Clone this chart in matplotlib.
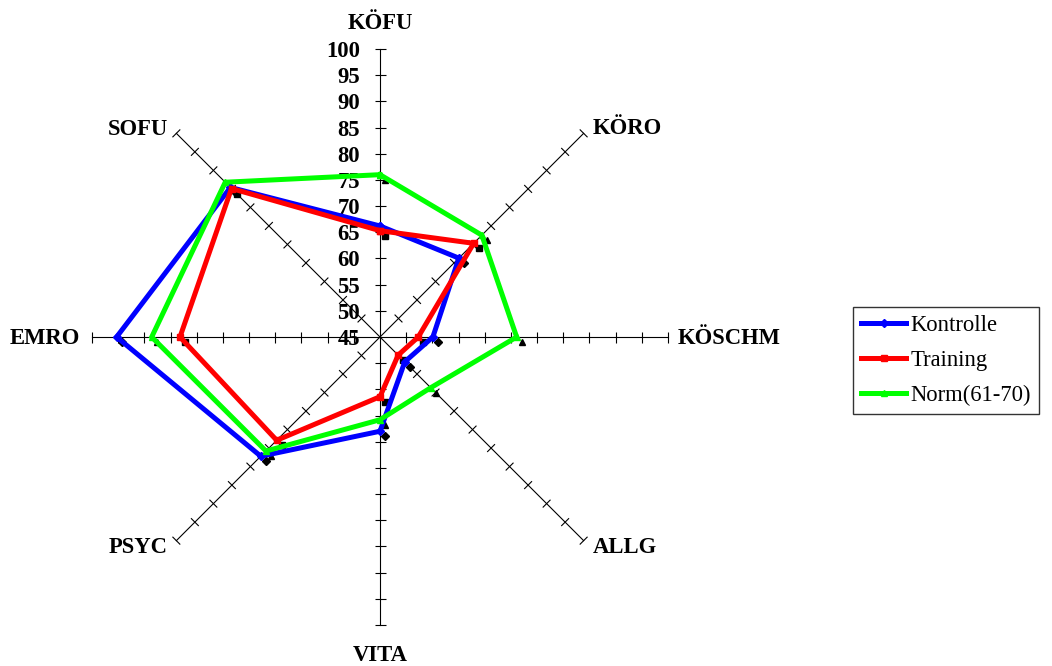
import numpy as np
import matplotlib.pyplot as plt
from matplotlib.collections import LineCollection
from matplotlib.transforms import offset_copy

axes_names = ['KÖFU', 'KÖRO', 'KÖSCHM', 'ALLG', 'VITA', 'PSYC', 'EMRO', 'SOFU']
kontrolle = [66.2, 66.3, 55.1, 51.7, 63.0, 77.2, 95.3, 85.4]
training = [65.3, 70.3, 52.3, 49.9, 56.4, 72.9, 83.2, 85.1]
norm = [76.0, 72.5, 71.1, 58.7, 60.8, 75.8, 88.6, 86.8]
scale_ticks = [45, 50, 55, 60, 65, 70, 75, 80, 85, 90, 95, 100]

r_min, r_max = 45, 100
px = 288 / (r_max - r_min)          # pixels per scale unit
cx, cy = 380, 666 - 337             # centre of the web in pixels
fs = 16.3

plt.rcParams['font.family'] = ['Liberation Serif', 'DejaVu Serif']
fig = plt.figure(figsize=(10.52, 6.66), dpi=100)
ax = fig.add_axes([0, 0, 1, 1])
ax.set_xlim(-cx / px, (1052 - cx) / px)
ax.set_ylim(-cy / px, (666 - cy) / px)
ax.axis('off')

theta = np.deg2rad(np.arange(len(axes_names)) * 45.0)
sx, sy = np.sin(theta), np.cos(theta)


def to_xy(values):
    r = np.asarray(values, dtype=float) - r_min
    x = np.append(r * sx, r[0] * sx[0])
    y = np.append(r * sy, r[0] * sy[0])
    return x, y


# spokes and their tick marks
R = r_max - r_min
for i in range(len(axes_names)):
    ax.plot([0, R * sx[i]], [0, R * sy[i]], color='black', lw=0.8, zorder=1)
segs = []
half = 5.5 / px
for i in range(len(axes_names)):
    nx, ny = sy[i], -sx[i]
    for v in scale_ticks[1:]:
        r = v - r_min
        px0, py0 = r * sx[i], r * sy[i]
        segs.append([(px0 - half * nx, py0 - half * ny), (px0 + half * nx, py0 + half * ny)])
ax.add_collection(LineCollection(segs, colors='black', linewidths=0.8, zorder=1))

# scale labels along the top spoke
for v in scale_ticks:
    ax.annotate(str(v), xy=(0, v - r_min), xytext=(-20, 0), textcoords='offset pixels',
                ha='right', va='center_baseline', fontsize=fs, fontweight='bold')

# spoke names
label_offsets = [(0, 20, 'center'), (9, -1, 'left'), (10, -7, 'left'), (9, -12, 'left'),
                 (0, -36, 'center'), (-9, -12, 'right'), (-12, -7, 'right'), (-8, -2, 'right')]
for i, name in enumerate(axes_names):
    dx, dy, ha = label_offsets[i]
    ax.annotate(name, xy=(R * sx[i], R * sy[i]), xytext=(dx, dy), textcoords='offset pixels',
                ha=ha, va='baseline', fontsize=fs, fontweight='bold')

series = [('Kontrolle', kontrolle, '#0000ff', 'D', 4.0),
          ('Training', training, '#ff0000', 's', 4.5),
          ('Norm(61-70)', norm, '#00ff00', '^', 5.0)]
shifted = offset_copy(ax.transData, fig=fig, x=5, y=-5, units='dots')
for name, vals, col, mk, ms in series:
    x, y = to_xy(vals)
    ax.plot(x, y, color=col, lw=3.6, marker=mk, markersize=4, markerfacecolor=col,
            markeredgecolor=col, solid_joinstyle='miter', label=name, zorder=3)
    ax.plot(x[:-1], y[:-1], linestyle='none', marker=mk, markersize=ms, color='black',
            transform=shifted, zorder=2)

leg = ax.legend(loc='upper left', bbox_to_anchor=(853 / 1052, 1 - 307 / 666),
                bbox_transform=fig.transFigure, frameon=True, fancybox=False,
                edgecolor='black', fontsize=fs, handlelength=2.0, handletextpad=0.2,
                labelspacing=0.62, borderpad=0.35, borderaxespad=0, numpoints=1)
leg.get_frame().set_linewidth(1.0)

plt.savefig('out.png', dpi=100)
